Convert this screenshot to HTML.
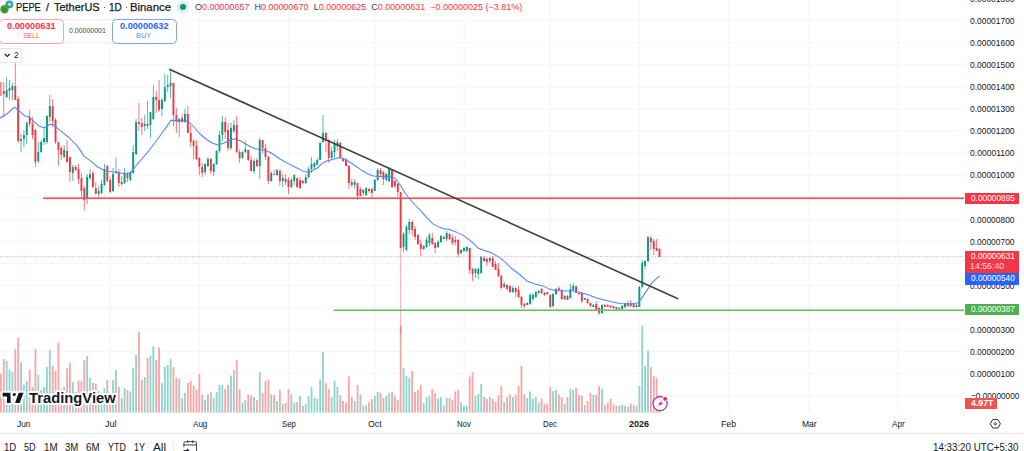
<!DOCTYPE html>
<html><head><meta charset="utf-8">
<style>
*{margin:0;padding:0;box-sizing:border-box}
html,body{width:1024px;height:451px;overflow:hidden;background:#fff}
body{position:relative;font-family:"Liberation Sans",sans-serif;color:#131722}
.a{position:absolute;white-space:nowrap}
svg{position:absolute;left:0;top:0}
</style></head><body>
<svg width="1024" height="451" viewBox="0 0 1024 451">
<rect x="0" y="-1.76" width="964" height="1" fill="#f5f5f7"/>
<rect x="0" y="20.30" width="964" height="1" fill="#f5f5f7"/>
<rect x="0" y="42.36" width="964" height="1" fill="#f5f5f7"/>
<rect x="0" y="64.42" width="964" height="1" fill="#f5f5f7"/>
<rect x="0" y="86.48" width="964" height="1" fill="#f5f5f7"/>
<rect x="0" y="108.54" width="964" height="1" fill="#f5f5f7"/>
<rect x="0" y="130.60" width="964" height="1" fill="#f5f5f7"/>
<rect x="0" y="152.66" width="964" height="1" fill="#f5f5f7"/>
<rect x="0" y="174.72" width="964" height="1" fill="#f5f5f7"/>
<rect x="0" y="196.78" width="964" height="1" fill="#f5f5f7"/>
<rect x="0" y="218.84" width="964" height="1" fill="#f5f5f7"/>
<rect x="0" y="240.90" width="964" height="1" fill="#f5f5f7"/>
<rect x="0" y="262.96" width="964" height="1" fill="#f5f5f7"/>
<rect x="0" y="285.02" width="964" height="1" fill="#f5f5f7"/>
<rect x="0" y="307.08" width="964" height="1" fill="#f5f5f7"/>
<rect x="0" y="329.14" width="964" height="1" fill="#f5f5f7"/>
<rect x="0" y="351.20" width="964" height="1" fill="#f5f5f7"/>
<rect x="0" y="373.26" width="964" height="1" fill="#f5f5f7"/>
<rect x="0" y="395.32" width="964" height="1" fill="#f5f5f7"/>
<rect x="23.50" y="0" width="1" height="413" fill="#f5f5f7"/>
<rect x="109.80" y="0" width="1" height="413" fill="#f5f5f7"/>
<rect x="199.00" y="0" width="1" height="413" fill="#f5f5f7"/>
<rect x="288.10" y="0" width="1" height="413" fill="#f5f5f7"/>
<rect x="374.40" y="0" width="1" height="413" fill="#f5f5f7"/>
<rect x="463.60" y="0" width="1" height="413" fill="#f5f5f7"/>
<rect x="549.80" y="0" width="1" height="413" fill="#f5f5f7"/>
<rect x="639.00" y="0" width="1" height="413" fill="#f5f5f7"/>
<rect x="728.20" y="0" width="1" height="413" fill="#f5f5f7"/>
<rect x="808.70" y="0" width="1" height="413" fill="#f5f5f7"/>
<rect x="897.80" y="0" width="1" height="413" fill="#f5f5f7"/>
<rect x="0.00" y="373.6" width="1.8" height="39.0" fill="#f7a5a7"/>
<rect x="2.88" y="359.0" width="1.8" height="53.6" fill="#f7a5a7"/>
<rect x="5.75" y="361.0" width="1.8" height="51.6" fill="#8fd3cb"/>
<rect x="8.63" y="369.5" width="1.8" height="43.1" fill="#8fd3cb"/>
<rect x="11.50" y="372.0" width="1.8" height="40.6" fill="#8fd3cb"/>
<rect x="14.38" y="349.0" width="1.8" height="63.6" fill="#f7a5a7"/>
<rect x="17.26" y="338.0" width="1.8" height="74.6" fill="#f7a5a7"/>
<rect x="20.13" y="362.0" width="1.8" height="50.6" fill="#8fd3cb"/>
<rect x="23.01" y="384.7" width="1.8" height="27.9" fill="#8fd3cb"/>
<rect x="25.88" y="381.0" width="1.8" height="31.6" fill="#8fd3cb"/>
<rect x="28.76" y="369.5" width="1.8" height="43.1" fill="#f7a5a7"/>
<rect x="31.64" y="387.0" width="1.8" height="25.6" fill="#f7a5a7"/>
<rect x="34.51" y="349.0" width="1.8" height="63.6" fill="#f7a5a7"/>
<rect x="37.39" y="375.0" width="1.8" height="37.6" fill="#8fd3cb"/>
<rect x="40.26" y="390.0" width="1.8" height="22.6" fill="#8fd3cb"/>
<rect x="43.14" y="387.0" width="1.8" height="25.6" fill="#8fd3cb"/>
<rect x="46.02" y="367.0" width="1.8" height="45.6" fill="#8fd3cb"/>
<rect x="48.89" y="350.0" width="1.8" height="62.6" fill="#8fd3cb"/>
<rect x="51.77" y="365.5" width="1.8" height="47.1" fill="#f7a5a7"/>
<rect x="54.64" y="371.0" width="1.8" height="41.6" fill="#f7a5a7"/>
<rect x="57.52" y="342.4" width="1.8" height="70.2" fill="#f7a5a7"/>
<rect x="60.40" y="389.0" width="1.8" height="23.6" fill="#f7a5a7"/>
<rect x="63.27" y="387.0" width="1.8" height="25.6" fill="#8fd3cb"/>
<rect x="66.15" y="368.5" width="1.8" height="44.1" fill="#f7a5a7"/>
<rect x="69.02" y="363.0" width="1.8" height="49.6" fill="#f7a5a7"/>
<rect x="71.90" y="382.0" width="1.8" height="30.6" fill="#8fd3cb"/>
<rect x="74.78" y="392.0" width="1.8" height="20.6" fill="#f7a5a7"/>
<rect x="77.65" y="380.6" width="1.8" height="32.0" fill="#f7a5a7"/>
<rect x="80.53" y="381.0" width="1.8" height="31.6" fill="#f7a5a7"/>
<rect x="83.40" y="360.0" width="1.8" height="52.6" fill="#f7a5a7"/>
<rect x="86.28" y="356.0" width="1.8" height="56.6" fill="#8fd3cb"/>
<rect x="89.16" y="378.0" width="1.8" height="34.6" fill="#8fd3cb"/>
<rect x="92.03" y="383.0" width="1.8" height="29.6" fill="#f7a5a7"/>
<rect x="94.91" y="384.0" width="1.8" height="28.6" fill="#f7a5a7"/>
<rect x="97.78" y="391.0" width="1.8" height="21.6" fill="#8fd3cb"/>
<rect x="100.66" y="396.0" width="1.8" height="16.6" fill="#8fd3cb"/>
<rect x="103.54" y="388.0" width="1.8" height="24.6" fill="#8fd3cb"/>
<rect x="106.41" y="380.0" width="1.8" height="32.6" fill="#f7a5a7"/>
<rect x="109.29" y="396.0" width="1.8" height="16.6" fill="#f7a5a7"/>
<rect x="112.16" y="380.0" width="1.8" height="32.6" fill="#8fd3cb"/>
<rect x="115.04" y="370.0" width="1.8" height="42.6" fill="#8fd3cb"/>
<rect x="117.92" y="387.0" width="1.8" height="25.6" fill="#f7a5a7"/>
<rect x="120.79" y="398.0" width="1.8" height="14.6" fill="#8fd3cb"/>
<rect x="123.67" y="388.0" width="1.8" height="24.6" fill="#8fd3cb"/>
<rect x="126.54" y="390.0" width="1.8" height="22.6" fill="#f7a5a7"/>
<rect x="129.42" y="391.4" width="1.8" height="21.2" fill="#8fd3cb"/>
<rect x="132.30" y="368.0" width="1.8" height="44.6" fill="#8fd3cb"/>
<rect x="135.17" y="355.0" width="1.8" height="57.6" fill="#8fd3cb"/>
<rect x="138.05" y="332.0" width="1.8" height="80.6" fill="#f7a5a7"/>
<rect x="140.92" y="380.0" width="1.8" height="32.6" fill="#f7a5a7"/>
<rect x="143.80" y="377.0" width="1.8" height="35.6" fill="#8fd3cb"/>
<rect x="146.68" y="358.0" width="1.8" height="54.6" fill="#f7a5a7"/>
<rect x="149.55" y="356.0" width="1.8" height="56.6" fill="#8fd3cb"/>
<rect x="152.43" y="346.5" width="1.8" height="66.1" fill="#8fd3cb"/>
<rect x="155.30" y="360.0" width="1.8" height="52.6" fill="#f7a5a7"/>
<rect x="158.18" y="347.5" width="1.8" height="65.1" fill="#f7a5a7"/>
<rect x="161.06" y="383.0" width="1.8" height="29.6" fill="#8fd3cb"/>
<rect x="163.93" y="367.0" width="1.8" height="45.6" fill="#8fd3cb"/>
<rect x="166.81" y="365.0" width="1.8" height="47.6" fill="#8fd3cb"/>
<rect x="169.68" y="359.0" width="1.8" height="53.6" fill="#8fd3cb"/>
<rect x="172.56" y="367.0" width="1.8" height="45.6" fill="#f7a5a7"/>
<rect x="175.44" y="377.5" width="1.8" height="35.1" fill="#f7a5a7"/>
<rect x="178.31" y="379.0" width="1.8" height="33.6" fill="#8fd3cb"/>
<rect x="181.19" y="398.0" width="1.8" height="14.6" fill="#f7a5a7"/>
<rect x="184.06" y="393.0" width="1.8" height="19.6" fill="#8fd3cb"/>
<rect x="186.94" y="383.0" width="1.8" height="29.6" fill="#f7a5a7"/>
<rect x="189.82" y="381.0" width="1.8" height="31.6" fill="#f7a5a7"/>
<rect x="192.69" y="385.7" width="1.8" height="26.9" fill="#f7a5a7"/>
<rect x="195.57" y="390.0" width="1.8" height="22.6" fill="#f7a5a7"/>
<rect x="198.44" y="374.0" width="1.8" height="38.6" fill="#f7a5a7"/>
<rect x="201.32" y="394.4" width="1.8" height="18.2" fill="#f7a5a7"/>
<rect x="204.20" y="400.0" width="1.8" height="12.6" fill="#8fd3cb"/>
<rect x="207.07" y="394.4" width="1.8" height="18.2" fill="#8fd3cb"/>
<rect x="209.95" y="392.0" width="1.8" height="20.6" fill="#f7a5a7"/>
<rect x="212.82" y="398.0" width="1.8" height="14.6" fill="#8fd3cb"/>
<rect x="215.70" y="392.0" width="1.8" height="20.6" fill="#8fd3cb"/>
<rect x="218.58" y="385.0" width="1.8" height="27.6" fill="#8fd3cb"/>
<rect x="221.45" y="385.0" width="1.8" height="27.6" fill="#8fd3cb"/>
<rect x="224.33" y="389.0" width="1.8" height="23.6" fill="#f7a5a7"/>
<rect x="227.20" y="385.0" width="1.8" height="27.6" fill="#f7a5a7"/>
<rect x="230.08" y="375.5" width="1.8" height="37.1" fill="#8fd3cb"/>
<rect x="232.96" y="370.0" width="1.8" height="42.6" fill="#8fd3cb"/>
<rect x="235.83" y="360.0" width="1.8" height="52.6" fill="#f7a5a7"/>
<rect x="238.71" y="389.0" width="1.8" height="23.6" fill="#f7a5a7"/>
<rect x="241.58" y="403.0" width="1.8" height="9.6" fill="#8fd3cb"/>
<rect x="244.46" y="400.0" width="1.8" height="12.6" fill="#8fd3cb"/>
<rect x="247.34" y="394.4" width="1.8" height="18.2" fill="#f7a5a7"/>
<rect x="250.21" y="395.5" width="1.8" height="17.1" fill="#f7a5a7"/>
<rect x="253.09" y="397.0" width="1.8" height="15.6" fill="#8fd3cb"/>
<rect x="255.96" y="400.0" width="1.8" height="12.6" fill="#f7a5a7"/>
<rect x="258.84" y="372.0" width="1.8" height="40.6" fill="#8fd3cb"/>
<rect x="261.72" y="393.0" width="1.8" height="19.6" fill="#f7a5a7"/>
<rect x="264.59" y="380.6" width="1.8" height="32.0" fill="#f7a5a7"/>
<rect x="267.47" y="380.0" width="1.8" height="32.6" fill="#f7a5a7"/>
<rect x="270.34" y="394.4" width="1.8" height="18.2" fill="#8fd3cb"/>
<rect x="273.22" y="395.0" width="1.8" height="17.6" fill="#f7a5a7"/>
<rect x="276.10" y="401.0" width="1.8" height="11.6" fill="#8fd3cb"/>
<rect x="278.97" y="390.0" width="1.8" height="22.6" fill="#f7a5a7"/>
<rect x="281.85" y="404.0" width="1.8" height="8.6" fill="#8fd3cb"/>
<rect x="284.72" y="403.0" width="1.8" height="9.6" fill="#f7a5a7"/>
<rect x="287.60" y="389.0" width="1.8" height="23.6" fill="#f7a5a7"/>
<rect x="290.48" y="394.4" width="1.8" height="18.2" fill="#8fd3cb"/>
<rect x="293.35" y="402.6" width="1.8" height="10.0" fill="#8fd3cb"/>
<rect x="296.23" y="402.0" width="1.8" height="10.6" fill="#f7a5a7"/>
<rect x="299.10" y="396.0" width="1.8" height="16.6" fill="#8fd3cb"/>
<rect x="301.98" y="405.7" width="1.8" height="6.9" fill="#f7a5a7"/>
<rect x="304.86" y="404.0" width="1.8" height="8.6" fill="#8fd3cb"/>
<rect x="307.73" y="396.0" width="1.8" height="16.6" fill="#8fd3cb"/>
<rect x="310.61" y="387.0" width="1.8" height="25.6" fill="#8fd3cb"/>
<rect x="313.48" y="398.0" width="1.8" height="14.6" fill="#8fd3cb"/>
<rect x="316.36" y="399.0" width="1.8" height="13.6" fill="#8fd3cb"/>
<rect x="319.24" y="379.5" width="1.8" height="33.1" fill="#8fd3cb"/>
<rect x="322.11" y="352.0" width="1.8" height="60.6" fill="#8fd3cb"/>
<rect x="324.99" y="383.0" width="1.8" height="29.6" fill="#f7a5a7"/>
<rect x="327.86" y="389.0" width="1.8" height="23.6" fill="#f7a5a7"/>
<rect x="330.74" y="397.0" width="1.8" height="15.6" fill="#8fd3cb"/>
<rect x="333.62" y="380.6" width="1.8" height="32.0" fill="#8fd3cb"/>
<rect x="336.49" y="387.0" width="1.8" height="25.6" fill="#8fd3cb"/>
<rect x="339.37" y="395.5" width="1.8" height="17.1" fill="#f7a5a7"/>
<rect x="342.24" y="401.0" width="1.8" height="11.6" fill="#f7a5a7"/>
<rect x="345.12" y="402.6" width="1.8" height="10.0" fill="#f7a5a7"/>
<rect x="348.00" y="376.5" width="1.8" height="36.1" fill="#f7a5a7"/>
<rect x="350.87" y="397.0" width="1.8" height="15.6" fill="#f7a5a7"/>
<rect x="353.75" y="401.0" width="1.8" height="11.6" fill="#8fd3cb"/>
<rect x="356.62" y="385.0" width="1.8" height="27.6" fill="#f7a5a7"/>
<rect x="359.50" y="394.4" width="1.8" height="18.2" fill="#8fd3cb"/>
<rect x="362.38" y="405.7" width="1.8" height="6.9" fill="#f7a5a7"/>
<rect x="365.25" y="405.0" width="1.8" height="7.6" fill="#8fd3cb"/>
<rect x="368.13" y="402.0" width="1.8" height="10.6" fill="#f7a5a7"/>
<rect x="371.00" y="399.0" width="1.8" height="13.6" fill="#f7a5a7"/>
<rect x="373.88" y="396.0" width="1.8" height="16.6" fill="#8fd3cb"/>
<rect x="376.76" y="392.0" width="1.8" height="20.6" fill="#8fd3cb"/>
<rect x="379.63" y="393.0" width="1.8" height="19.6" fill="#f7a5a7"/>
<rect x="382.51" y="398.0" width="1.8" height="14.6" fill="#f7a5a7"/>
<rect x="385.38" y="396.0" width="1.8" height="16.6" fill="#8fd3cb"/>
<rect x="388.26" y="393.0" width="1.8" height="19.6" fill="#8fd3cb"/>
<rect x="391.14" y="392.0" width="1.8" height="20.6" fill="#f7a5a7"/>
<rect x="394.01" y="396.0" width="1.8" height="16.6" fill="#f7a5a7"/>
<rect x="396.89" y="399.6" width="1.8" height="13.0" fill="#f7a5a7"/>
<rect x="399.76" y="326.0" width="1.8" height="86.6" fill="#f7a5a7"/>
<rect x="402.64" y="368.0" width="1.8" height="44.6" fill="#8fd3cb"/>
<rect x="405.52" y="376.0" width="1.8" height="36.6" fill="#8fd3cb"/>
<rect x="408.39" y="377.7" width="1.8" height="34.9" fill="#8fd3cb"/>
<rect x="411.27" y="371.0" width="1.8" height="41.6" fill="#f7a5a7"/>
<rect x="414.14" y="392.0" width="1.8" height="20.6" fill="#f7a5a7"/>
<rect x="417.02" y="390.0" width="1.8" height="22.6" fill="#f7a5a7"/>
<rect x="419.90" y="384.7" width="1.8" height="27.9" fill="#f7a5a7"/>
<rect x="422.77" y="403.0" width="1.8" height="9.6" fill="#8fd3cb"/>
<rect x="425.65" y="397.0" width="1.8" height="15.6" fill="#8fd3cb"/>
<rect x="428.52" y="396.0" width="1.8" height="16.6" fill="#8fd3cb"/>
<rect x="431.40" y="389.0" width="1.8" height="23.6" fill="#f7a5a7"/>
<rect x="434.28" y="393.0" width="1.8" height="19.6" fill="#f7a5a7"/>
<rect x="437.15" y="398.5" width="1.8" height="14.1" fill="#8fd3cb"/>
<rect x="440.03" y="397.0" width="1.8" height="15.6" fill="#8fd3cb"/>
<rect x="442.90" y="405.7" width="1.8" height="6.9" fill="#f7a5a7"/>
<rect x="445.78" y="398.0" width="1.8" height="14.6" fill="#8fd3cb"/>
<rect x="448.66" y="398.0" width="1.8" height="14.6" fill="#f7a5a7"/>
<rect x="451.53" y="399.6" width="1.8" height="13.0" fill="#f7a5a7"/>
<rect x="454.41" y="391.4" width="1.8" height="21.2" fill="#f7a5a7"/>
<rect x="457.28" y="389.8" width="1.8" height="22.8" fill="#f7a5a7"/>
<rect x="460.16" y="402.0" width="1.8" height="10.6" fill="#8fd3cb"/>
<rect x="463.04" y="405.7" width="1.8" height="6.9" fill="#8fd3cb"/>
<rect x="465.91" y="405.7" width="1.8" height="6.9" fill="#8fd3cb"/>
<rect x="468.79" y="376.5" width="1.8" height="36.1" fill="#f7a5a7"/>
<rect x="471.66" y="372.4" width="1.8" height="40.2" fill="#f7a5a7"/>
<rect x="474.54" y="396.0" width="1.8" height="16.6" fill="#8fd3cb"/>
<rect x="477.42" y="394.0" width="1.8" height="18.6" fill="#8fd3cb"/>
<rect x="480.29" y="384.0" width="1.8" height="28.6" fill="#8fd3cb"/>
<rect x="483.17" y="397.0" width="1.8" height="15.6" fill="#f7a5a7"/>
<rect x="486.04" y="399.0" width="1.8" height="13.6" fill="#f7a5a7"/>
<rect x="488.92" y="397.0" width="1.8" height="15.6" fill="#8fd3cb"/>
<rect x="491.80" y="399.0" width="1.8" height="13.6" fill="#f7a5a7"/>
<rect x="494.67" y="402.0" width="1.8" height="10.6" fill="#f7a5a7"/>
<rect x="497.55" y="395.5" width="1.8" height="17.1" fill="#f7a5a7"/>
<rect x="500.42" y="386.0" width="1.8" height="26.6" fill="#f7a5a7"/>
<rect x="503.30" y="402.0" width="1.8" height="10.6" fill="#8fd3cb"/>
<rect x="506.18" y="397.0" width="1.8" height="15.6" fill="#f7a5a7"/>
<rect x="509.05" y="394.4" width="1.8" height="18.2" fill="#f7a5a7"/>
<rect x="511.93" y="397.0" width="1.8" height="15.6" fill="#8fd3cb"/>
<rect x="514.80" y="394.4" width="1.8" height="18.2" fill="#f7a5a7"/>
<rect x="517.68" y="386.0" width="1.8" height="26.6" fill="#f7a5a7"/>
<rect x="520.56" y="366.0" width="1.8" height="46.6" fill="#f7a5a7"/>
<rect x="523.43" y="394.4" width="1.8" height="18.2" fill="#f7a5a7"/>
<rect x="526.31" y="398.0" width="1.8" height="14.6" fill="#8fd3cb"/>
<rect x="529.18" y="391.4" width="1.8" height="21.2" fill="#8fd3cb"/>
<rect x="532.06" y="398.5" width="1.8" height="14.1" fill="#8fd3cb"/>
<rect x="534.94" y="397.0" width="1.8" height="15.6" fill="#8fd3cb"/>
<rect x="537.81" y="402.6" width="1.8" height="10.0" fill="#8fd3cb"/>
<rect x="540.69" y="398.5" width="1.8" height="14.1" fill="#f7a5a7"/>
<rect x="543.56" y="403.6" width="1.8" height="9.0" fill="#f7a5a7"/>
<rect x="546.44" y="403.6" width="1.8" height="9.0" fill="#f7a5a7"/>
<rect x="549.32" y="387.0" width="1.8" height="25.6" fill="#f7a5a7"/>
<rect x="552.19" y="391.0" width="1.8" height="21.6" fill="#8fd3cb"/>
<rect x="555.07" y="390.0" width="1.8" height="22.6" fill="#8fd3cb"/>
<rect x="557.94" y="394.4" width="1.8" height="18.2" fill="#f7a5a7"/>
<rect x="560.82" y="397.0" width="1.8" height="15.6" fill="#f7a5a7"/>
<rect x="563.70" y="403.6" width="1.8" height="9.0" fill="#8fd3cb"/>
<rect x="566.57" y="397.0" width="1.8" height="15.6" fill="#f7a5a7"/>
<rect x="569.45" y="388.7" width="1.8" height="23.9" fill="#8fd3cb"/>
<rect x="572.32" y="390.0" width="1.8" height="22.6" fill="#8fd3cb"/>
<rect x="575.20" y="388.0" width="1.8" height="24.6" fill="#f7a5a7"/>
<rect x="578.08" y="395.0" width="1.8" height="17.6" fill="#f7a5a7"/>
<rect x="580.95" y="396.0" width="1.8" height="16.6" fill="#f7a5a7"/>
<rect x="583.83" y="405.0" width="1.8" height="7.6" fill="#8fd3cb"/>
<rect x="586.70" y="401.0" width="1.8" height="11.6" fill="#f7a5a7"/>
<rect x="589.58" y="393.0" width="1.8" height="19.6" fill="#f7a5a7"/>
<rect x="592.46" y="395.0" width="1.8" height="17.6" fill="#8fd3cb"/>
<rect x="595.33" y="395.0" width="1.8" height="17.6" fill="#f7a5a7"/>
<rect x="598.21" y="386.0" width="1.8" height="26.6" fill="#f7a5a7"/>
<rect x="601.08" y="388.7" width="1.8" height="23.9" fill="#8fd3cb"/>
<rect x="603.96" y="405.0" width="1.8" height="7.6" fill="#f7a5a7"/>
<rect x="606.84" y="402.6" width="1.8" height="10.0" fill="#f7a5a7"/>
<rect x="609.71" y="398.5" width="1.8" height="14.1" fill="#f7a5a7"/>
<rect x="612.59" y="404.7" width="1.8" height="7.9" fill="#f7a5a7"/>
<rect x="615.46" y="405.7" width="1.8" height="6.9" fill="#8fd3cb"/>
<rect x="618.34" y="406.0" width="1.8" height="6.6" fill="#f7a5a7"/>
<rect x="621.22" y="405.0" width="1.8" height="7.6" fill="#8fd3cb"/>
<rect x="624.09" y="406.0" width="1.8" height="6.6" fill="#8fd3cb"/>
<rect x="626.97" y="406.7" width="1.8" height="5.9" fill="#f7a5a7"/>
<rect x="629.84" y="403.6" width="1.8" height="9.0" fill="#f7a5a7"/>
<rect x="632.72" y="405.0" width="1.8" height="7.6" fill="#8fd3cb"/>
<rect x="635.60" y="406.0" width="1.8" height="6.6" fill="#f7a5a7"/>
<rect x="638.47" y="386.0" width="1.8" height="26.6" fill="#8fd3cb"/>
<rect x="641.35" y="325.7" width="1.8" height="86.9" fill="#8fd3cb"/>
<rect x="644.22" y="366.0" width="1.8" height="46.6" fill="#8fd3cb"/>
<rect x="647.10" y="350.6" width="1.8" height="62.0" fill="#8fd3cb"/>
<rect x="649.98" y="367.0" width="1.8" height="45.6" fill="#f7a5a7"/>
<rect x="652.85" y="376.0" width="1.8" height="36.6" fill="#f7a5a7"/>
<rect x="655.73" y="378.0" width="1.8" height="34.6" fill="#f7a5a7"/>
<rect x="658.60" y="395.0" width="1.8" height="17.6" fill="#f7a5a7"/>
<line x1="0" y1="256.4" x2="964" y2="256.4" stroke="#f7a1a8" stroke-width="1" stroke-dasharray="1 1.4"/>
<rect x="0.45" y="82.0" width="0.9" height="14.0" fill="#f23645" opacity="0.75"/>
<rect x="-0.05" y="82.0" width="1.9" height="14.0" fill="#f23645" opacity="0.3"/>
<rect x="3.33" y="82.0" width="0.9" height="35.0" fill="#f23645" opacity="0.75"/>
<rect x="2.83" y="91.0" width="1.9" height="3.0" fill="#f23645"/>
<rect x="6.20" y="77.0" width="0.9" height="21.0" fill="#089981" opacity="0.75"/>
<rect x="5.70" y="90.0" width="1.9" height="7.0" fill="#089981"/>
<rect x="9.08" y="80.0" width="0.9" height="20.0" fill="#089981" opacity="0.75"/>
<rect x="8.58" y="88.0" width="1.9" height="3.0" fill="#089981"/>
<rect x="11.95" y="83.0" width="0.9" height="17.0" fill="#089981" opacity="0.75"/>
<rect x="11.45" y="86.0" width="1.9" height="4.0" fill="#089981"/>
<rect x="14.83" y="63.0" width="0.9" height="37.0" fill="#f23645" opacity="0.75"/>
<rect x="14.33" y="86.0" width="1.9" height="14.0" fill="#f23645"/>
<rect x="17.71" y="96.0" width="0.9" height="47.0" fill="#f23645" opacity="0.75"/>
<rect x="17.21" y="99.0" width="1.9" height="42.0" fill="#f23645"/>
<rect x="20.58" y="134.0" width="0.9" height="18.0" fill="#089981" opacity="0.75"/>
<rect x="20.08" y="139.0" width="1.9" height="2.0" fill="#089981"/>
<rect x="23.46" y="130.0" width="0.9" height="17.0" fill="#089981" opacity="0.75"/>
<rect x="22.96" y="135.0" width="1.9" height="4.0" fill="#089981"/>
<rect x="26.33" y="121.0" width="0.9" height="23.0" fill="#089981" opacity="0.75"/>
<rect x="25.83" y="123.0" width="1.9" height="12.0" fill="#089981"/>
<rect x="29.21" y="110.0" width="0.9" height="17.0" fill="#f23645" opacity="0.75"/>
<rect x="28.71" y="117.0" width="1.9" height="7.0" fill="#f23645"/>
<rect x="32.09" y="117.0" width="0.9" height="22.0" fill="#f23645" opacity="0.75"/>
<rect x="31.59" y="124.0" width="1.9" height="11.0" fill="#f23645"/>
<rect x="34.96" y="129.0" width="0.9" height="38.0" fill="#f23645" opacity="0.75"/>
<rect x="34.46" y="130.0" width="1.9" height="32.0" fill="#f23645"/>
<rect x="37.84" y="142.0" width="0.9" height="21.0" fill="#089981" opacity="0.75"/>
<rect x="37.34" y="152.0" width="1.9" height="9.0" fill="#089981"/>
<rect x="40.71" y="140.0" width="0.9" height="13.0" fill="#089981" opacity="0.75"/>
<rect x="40.21" y="142.0" width="1.9" height="10.0" fill="#089981"/>
<rect x="43.59" y="128.0" width="0.9" height="17.0" fill="#089981" opacity="0.75"/>
<rect x="43.09" y="138.0" width="1.9" height="4.0" fill="#089981"/>
<rect x="46.47" y="115.0" width="0.9" height="29.0" fill="#089981" opacity="0.75"/>
<rect x="45.97" y="116.0" width="1.9" height="26.0" fill="#089981"/>
<rect x="49.34" y="95.0" width="0.9" height="27.0" fill="#089981" opacity="0.75"/>
<rect x="48.84" y="106.0" width="1.9" height="11.0" fill="#089981"/>
<rect x="52.22" y="99.0" width="0.9" height="28.0" fill="#f23645" opacity="0.75"/>
<rect x="51.72" y="106.0" width="1.9" height="15.0" fill="#f23645"/>
<rect x="55.09" y="118.0" width="0.9" height="26.0" fill="#f23645" opacity="0.75"/>
<rect x="54.59" y="120.0" width="1.9" height="22.0" fill="#f23645"/>
<rect x="57.97" y="142.0" width="0.9" height="24.0" fill="#f23645" opacity="0.75"/>
<rect x="57.47" y="142.0" width="1.9" height="8.0" fill="#f23645"/>
<rect x="60.85" y="146.0" width="0.9" height="14.0" fill="#f23645" opacity="0.75"/>
<rect x="60.35" y="148.0" width="1.9" height="7.0" fill="#f23645"/>
<rect x="63.72" y="145.0" width="0.9" height="13.0" fill="#089981" opacity="0.75"/>
<rect x="63.22" y="150.0" width="1.9" height="7.0" fill="#089981"/>
<rect x="66.60" y="140.0" width="0.9" height="23.0" fill="#f23645" opacity="0.75"/>
<rect x="66.10" y="151.0" width="1.9" height="11.0" fill="#f23645"/>
<rect x="69.47" y="157.0" width="0.9" height="25.0" fill="#f23645" opacity="0.75"/>
<rect x="68.97" y="157.0" width="1.9" height="15.0" fill="#f23645"/>
<rect x="72.35" y="165.0" width="0.9" height="16.0" fill="#089981" opacity="0.75"/>
<rect x="71.85" y="167.0" width="1.9" height="6.0" fill="#089981"/>
<rect x="75.23" y="165.0" width="0.9" height="6.0" fill="#f23645" opacity="0.75"/>
<rect x="74.73" y="167.0" width="1.9" height="3.0" fill="#f23645"/>
<rect x="78.10" y="164.0" width="0.9" height="20.0" fill="#f23645" opacity="0.75"/>
<rect x="77.60" y="169.0" width="1.9" height="10.0" fill="#f23645"/>
<rect x="80.98" y="173.0" width="0.9" height="25.0" fill="#f23645" opacity="0.75"/>
<rect x="80.48" y="178.0" width="1.9" height="13.0" fill="#f23645"/>
<rect x="83.85" y="186.0" width="0.9" height="24.0" fill="#f23645" opacity="0.75"/>
<rect x="83.35" y="188.0" width="1.9" height="12.0" fill="#f23645"/>
<rect x="86.73" y="174.0" width="0.9" height="30.0" fill="#089981" opacity="0.75"/>
<rect x="86.23" y="177.0" width="1.9" height="21.0" fill="#089981"/>
<rect x="89.61" y="169.0" width="0.9" height="11.0" fill="#089981" opacity="0.75"/>
<rect x="89.11" y="174.0" width="1.9" height="4.0" fill="#089981"/>
<rect x="92.48" y="171.0" width="0.9" height="17.0" fill="#f23645" opacity="0.75"/>
<rect x="91.98" y="173.0" width="1.9" height="14.0" fill="#f23645"/>
<rect x="95.36" y="182.0" width="0.9" height="12.0" fill="#f23645" opacity="0.75"/>
<rect x="94.86" y="188.0" width="1.9" height="6.0" fill="#f23645"/>
<rect x="98.23" y="186.0" width="0.9" height="12.0" fill="#089981" opacity="0.75"/>
<rect x="97.73" y="191.0" width="1.9" height="3.0" fill="#089981"/>
<rect x="101.11" y="180.0" width="0.9" height="14.0" fill="#089981" opacity="0.75"/>
<rect x="100.61" y="184.0" width="1.9" height="9.0" fill="#089981"/>
<rect x="103.99" y="164.0" width="0.9" height="22.0" fill="#089981" opacity="0.75"/>
<rect x="103.49" y="169.0" width="1.9" height="16.0" fill="#089981"/>
<rect x="106.86" y="165.0" width="0.9" height="17.0" fill="#f23645" opacity="0.75"/>
<rect x="106.36" y="166.0" width="1.9" height="15.0" fill="#f23645"/>
<rect x="109.74" y="177.0" width="0.9" height="16.0" fill="#f23645" opacity="0.75"/>
<rect x="109.24" y="180.0" width="1.9" height="12.0" fill="#f23645"/>
<rect x="112.61" y="168.0" width="0.9" height="24.0" fill="#089981" opacity="0.75"/>
<rect x="112.11" y="174.0" width="1.9" height="17.0" fill="#089981"/>
<rect x="115.49" y="158.0" width="0.9" height="16.0" fill="#089981" opacity="0.75"/>
<rect x="114.99" y="171.0" width="1.9" height="2.0" fill="#089981"/>
<rect x="118.37" y="169.0" width="0.9" height="18.0" fill="#f23645" opacity="0.75"/>
<rect x="117.87" y="172.0" width="1.9" height="11.0" fill="#f23645"/>
<rect x="121.24" y="176.0" width="0.9" height="10.0" fill="#089981" opacity="0.75"/>
<rect x="120.74" y="182.0" width="1.9" height="2.0" fill="#089981"/>
<rect x="124.12" y="168.0" width="0.9" height="16.0" fill="#089981" opacity="0.75"/>
<rect x="123.62" y="173.0" width="1.9" height="10.0" fill="#089981"/>
<rect x="126.99" y="172.0" width="0.9" height="10.0" fill="#f23645" opacity="0.75"/>
<rect x="126.49" y="174.0" width="1.9" height="4.0" fill="#f23645"/>
<rect x="129.87" y="171.0" width="0.9" height="10.0" fill="#089981" opacity="0.75"/>
<rect x="129.37" y="172.0" width="1.9" height="8.0" fill="#089981"/>
<rect x="132.75" y="145.0" width="0.9" height="29.0" fill="#089981" opacity="0.75"/>
<rect x="132.25" y="152.0" width="1.9" height="21.0" fill="#089981"/>
<rect x="135.62" y="119.0" width="0.9" height="36.0" fill="#089981" opacity="0.75"/>
<rect x="135.12" y="122.0" width="1.9" height="32.0" fill="#089981"/>
<rect x="138.50" y="103.0" width="0.9" height="28.0" fill="#f23645" opacity="0.75"/>
<rect x="138.00" y="122.0" width="1.9" height="2.0" fill="#f23645"/>
<rect x="141.37" y="118.0" width="0.9" height="17.0" fill="#f23645" opacity="0.75"/>
<rect x="140.87" y="123.0" width="1.9" height="4.0" fill="#f23645"/>
<rect x="144.25" y="115.0" width="0.9" height="16.0" fill="#089981" opacity="0.75"/>
<rect x="143.75" y="124.0" width="1.9" height="2.0" fill="#089981"/>
<rect x="147.13" y="101.0" width="0.9" height="28.0" fill="#f23645" opacity="0.75"/>
<rect x="146.63" y="124.0" width="1.9" height="2.0" fill="#f23645"/>
<rect x="150.00" y="112.0" width="0.9" height="26.0" fill="#089981" opacity="0.75"/>
<rect x="149.50" y="112.0" width="1.9" height="13.0" fill="#089981"/>
<rect x="152.88" y="85.0" width="0.9" height="35.0" fill="#089981" opacity="0.75"/>
<rect x="152.38" y="97.0" width="1.9" height="22.0" fill="#089981"/>
<rect x="155.75" y="91.0" width="0.9" height="22.0" fill="#f23645" opacity="0.75"/>
<rect x="155.25" y="97.0" width="1.9" height="3.0" fill="#f23645"/>
<rect x="158.63" y="80.0" width="0.9" height="32.0" fill="#f23645" opacity="0.75"/>
<rect x="158.13" y="100.0" width="1.9" height="10.0" fill="#f23645"/>
<rect x="161.51" y="98.0" width="0.9" height="18.0" fill="#089981" opacity="0.75"/>
<rect x="161.01" y="100.0" width="1.9" height="9.0" fill="#089981"/>
<rect x="164.38" y="74.0" width="0.9" height="28.0" fill="#089981" opacity="0.75"/>
<rect x="163.88" y="87.0" width="1.9" height="14.0" fill="#089981"/>
<rect x="167.26" y="75.0" width="0.9" height="17.0" fill="#089981" opacity="0.75"/>
<rect x="166.76" y="85.0" width="1.9" height="2.0" fill="#089981"/>
<rect x="170.13" y="70.0" width="0.9" height="28.0" fill="#089981" opacity="0.75"/>
<rect x="169.63" y="83.0" width="1.9" height="3.0" fill="#089981"/>
<rect x="173.01" y="83.0" width="0.9" height="43.0" fill="#f23645" opacity="0.75"/>
<rect x="172.51" y="83.0" width="1.9" height="32.0" fill="#f23645"/>
<rect x="175.89" y="108.0" width="0.9" height="25.0" fill="#f23645" opacity="0.75"/>
<rect x="175.39" y="115.0" width="1.9" height="7.0" fill="#f23645"/>
<rect x="178.76" y="118.0" width="0.9" height="19.0" fill="#089981" opacity="0.75"/>
<rect x="178.26" y="119.0" width="1.9" height="3.0" fill="#089981"/>
<rect x="181.64" y="114.0" width="0.9" height="9.0" fill="#f23645" opacity="0.75"/>
<rect x="181.14" y="118.0" width="1.9" height="4.0" fill="#f23645"/>
<rect x="184.51" y="109.0" width="0.9" height="14.0" fill="#089981" opacity="0.75"/>
<rect x="184.01" y="114.0" width="1.9" height="8.0" fill="#089981"/>
<rect x="187.39" y="106.0" width="0.9" height="27.0" fill="#f23645" opacity="0.75"/>
<rect x="186.89" y="114.0" width="1.9" height="19.0" fill="#f23645"/>
<rect x="190.27" y="125.0" width="0.9" height="22.0" fill="#f23645" opacity="0.75"/>
<rect x="189.77" y="133.0" width="1.9" height="9.0" fill="#f23645"/>
<rect x="193.14" y="139.0" width="0.9" height="20.0" fill="#f23645" opacity="0.75"/>
<rect x="192.64" y="141.0" width="1.9" height="5.0" fill="#f23645"/>
<rect x="196.02" y="140.0" width="0.9" height="20.0" fill="#f23645" opacity="0.75"/>
<rect x="195.52" y="146.0" width="1.9" height="13.0" fill="#f23645"/>
<rect x="198.89" y="157.0" width="0.9" height="18.0" fill="#f23645" opacity="0.75"/>
<rect x="198.39" y="158.0" width="1.9" height="9.0" fill="#f23645"/>
<rect x="201.77" y="163.0" width="0.9" height="14.0" fill="#f23645" opacity="0.75"/>
<rect x="201.27" y="167.0" width="1.9" height="6.0" fill="#f23645"/>
<rect x="204.65" y="163.0" width="0.9" height="12.0" fill="#089981" opacity="0.75"/>
<rect x="204.15" y="164.0" width="1.9" height="8.0" fill="#089981"/>
<rect x="207.52" y="157.0" width="0.9" height="10.0" fill="#089981" opacity="0.75"/>
<rect x="207.02" y="159.0" width="1.9" height="7.0" fill="#089981"/>
<rect x="210.40" y="158.0" width="0.9" height="16.0" fill="#f23645" opacity="0.75"/>
<rect x="209.90" y="159.0" width="1.9" height="12.0" fill="#f23645"/>
<rect x="213.27" y="163.0" width="0.9" height="13.0" fill="#089981" opacity="0.75"/>
<rect x="212.77" y="164.0" width="1.9" height="8.0" fill="#089981"/>
<rect x="216.15" y="150.0" width="0.9" height="15.0" fill="#089981" opacity="0.75"/>
<rect x="215.65" y="151.0" width="1.9" height="13.0" fill="#089981"/>
<rect x="219.03" y="131.0" width="0.9" height="22.0" fill="#089981" opacity="0.75"/>
<rect x="218.53" y="135.0" width="1.9" height="16.0" fill="#089981"/>
<rect x="221.90" y="116.0" width="0.9" height="25.0" fill="#089981" opacity="0.75"/>
<rect x="221.40" y="122.0" width="1.9" height="13.0" fill="#089981"/>
<rect x="224.78" y="117.0" width="0.9" height="22.0" fill="#f23645" opacity="0.75"/>
<rect x="224.28" y="122.0" width="1.9" height="10.0" fill="#f23645"/>
<rect x="227.65" y="123.0" width="0.9" height="28.0" fill="#f23645" opacity="0.75"/>
<rect x="227.15" y="130.0" width="1.9" height="18.0" fill="#f23645"/>
<rect x="230.53" y="123.0" width="0.9" height="27.0" fill="#089981" opacity="0.75"/>
<rect x="230.03" y="128.0" width="1.9" height="20.0" fill="#089981"/>
<rect x="233.41" y="120.0" width="0.9" height="13.0" fill="#089981" opacity="0.75"/>
<rect x="232.91" y="125.0" width="1.9" height="6.0" fill="#089981"/>
<rect x="236.28" y="116.0" width="0.9" height="37.0" fill="#f23645" opacity="0.75"/>
<rect x="235.78" y="125.0" width="1.9" height="27.0" fill="#f23645"/>
<rect x="239.16" y="149.0" width="0.9" height="14.0" fill="#f23645" opacity="0.75"/>
<rect x="238.66" y="152.0" width="1.9" height="6.0" fill="#f23645"/>
<rect x="242.03" y="151.0" width="0.9" height="8.0" fill="#089981" opacity="0.75"/>
<rect x="241.53" y="152.0" width="1.9" height="6.0" fill="#089981"/>
<rect x="244.91" y="141.0" width="0.9" height="12.0" fill="#089981" opacity="0.75"/>
<rect x="244.41" y="149.0" width="1.9" height="3.0" fill="#089981"/>
<rect x="247.79" y="150.0" width="0.9" height="11.0" fill="#f23645" opacity="0.75"/>
<rect x="247.29" y="150.0" width="1.9" height="10.0" fill="#f23645"/>
<rect x="250.66" y="156.0" width="0.9" height="15.0" fill="#f23645" opacity="0.75"/>
<rect x="250.16" y="160.0" width="1.9" height="11.0" fill="#f23645"/>
<rect x="253.54" y="159.0" width="0.9" height="15.0" fill="#089981" opacity="0.75"/>
<rect x="253.04" y="161.0" width="1.9" height="10.0" fill="#089981"/>
<rect x="256.41" y="158.0" width="0.9" height="9.0" fill="#f23645" opacity="0.75"/>
<rect x="255.91" y="160.0" width="1.9" height="6.0" fill="#f23645"/>
<rect x="259.29" y="138.0" width="0.9" height="41.0" fill="#089981" opacity="0.75"/>
<rect x="258.79" y="140.0" width="1.9" height="26.0" fill="#089981"/>
<rect x="262.17" y="140.0" width="0.9" height="13.0" fill="#f23645" opacity="0.75"/>
<rect x="261.67" y="140.0" width="1.9" height="8.0" fill="#f23645"/>
<rect x="265.04" y="144.0" width="0.9" height="16.0" fill="#f23645" opacity="0.75"/>
<rect x="264.54" y="148.0" width="1.9" height="9.0" fill="#f23645"/>
<rect x="267.92" y="156.0" width="0.9" height="28.0" fill="#f23645" opacity="0.75"/>
<rect x="267.42" y="157.0" width="1.9" height="24.0" fill="#f23645"/>
<rect x="270.79" y="171.0" width="0.9" height="11.0" fill="#089981" opacity="0.75"/>
<rect x="270.29" y="173.0" width="1.9" height="8.0" fill="#089981"/>
<rect x="273.67" y="170.0" width="0.9" height="5.0" fill="#f23645" opacity="0.75"/>
<rect x="273.17" y="174.0" width="1.9" height="1.0" fill="#f23645"/>
<rect x="276.55" y="169.0" width="0.9" height="7.0" fill="#089981" opacity="0.75"/>
<rect x="276.05" y="170.0" width="1.9" height="5.0" fill="#089981"/>
<rect x="279.42" y="169.0" width="0.9" height="17.0" fill="#f23645" opacity="0.75"/>
<rect x="278.92" y="171.0" width="1.9" height="10.0" fill="#f23645"/>
<rect x="282.30" y="174.0" width="0.9" height="13.0" fill="#089981" opacity="0.75"/>
<rect x="281.80" y="178.0" width="1.9" height="3.0" fill="#089981"/>
<rect x="285.17" y="174.0" width="0.9" height="11.0" fill="#f23645" opacity="0.75"/>
<rect x="284.67" y="179.0" width="1.9" height="3.0" fill="#f23645"/>
<rect x="288.05" y="177.0" width="0.9" height="17.0" fill="#f23645" opacity="0.75"/>
<rect x="287.55" y="180.0" width="1.9" height="7.0" fill="#f23645"/>
<rect x="290.93" y="178.0" width="0.9" height="10.0" fill="#089981" opacity="0.75"/>
<rect x="290.43" y="180.0" width="1.9" height="7.0" fill="#089981"/>
<rect x="293.80" y="174.0" width="0.9" height="11.0" fill="#089981" opacity="0.75"/>
<rect x="293.30" y="175.0" width="1.9" height="6.0" fill="#089981"/>
<rect x="296.68" y="178.0" width="0.9" height="10.0" fill="#f23645" opacity="0.75"/>
<rect x="296.18" y="178.0" width="1.9" height="9.0" fill="#f23645"/>
<rect x="299.55" y="177.0" width="0.9" height="12.0" fill="#f23645" opacity="0.75"/>
<rect x="299.05" y="180.0" width="1.9" height="8.0" fill="#f23645"/>
<rect x="302.43" y="180.0" width="0.9" height="4.0" fill="#f23645" opacity="0.75"/>
<rect x="301.93" y="181.0" width="1.9" height="2.0" fill="#f23645"/>
<rect x="305.31" y="174.0" width="0.9" height="10.0" fill="#089981" opacity="0.75"/>
<rect x="304.81" y="177.0" width="1.9" height="6.0" fill="#089981"/>
<rect x="308.18" y="167.0" width="0.9" height="11.0" fill="#089981" opacity="0.75"/>
<rect x="307.68" y="169.0" width="1.9" height="8.0" fill="#089981"/>
<rect x="311.06" y="157.0" width="0.9" height="16.0" fill="#089981" opacity="0.75"/>
<rect x="310.56" y="164.0" width="1.9" height="5.0" fill="#089981"/>
<rect x="313.93" y="162.0" width="0.9" height="7.0" fill="#089981" opacity="0.75"/>
<rect x="313.43" y="163.0" width="1.9" height="4.0" fill="#089981"/>
<rect x="316.81" y="158.0" width="0.9" height="7.0" fill="#089981" opacity="0.75"/>
<rect x="316.31" y="160.0" width="1.9" height="5.0" fill="#089981"/>
<rect x="319.69" y="142.0" width="0.9" height="18.0" fill="#089981" opacity="0.75"/>
<rect x="319.19" y="143.0" width="1.9" height="17.0" fill="#089981"/>
<rect x="322.56" y="115.0" width="0.9" height="28.0" fill="#089981" opacity="0.75"/>
<rect x="322.06" y="133.0" width="1.9" height="9.0" fill="#089981"/>
<rect x="325.44" y="132.0" width="0.9" height="20.0" fill="#f23645" opacity="0.75"/>
<rect x="324.94" y="133.0" width="1.9" height="8.0" fill="#f23645"/>
<rect x="328.31" y="139.0" width="0.9" height="24.0" fill="#f23645" opacity="0.75"/>
<rect x="327.81" y="140.0" width="1.9" height="18.0" fill="#f23645"/>
<rect x="331.19" y="147.0" width="0.9" height="12.0" fill="#089981" opacity="0.75"/>
<rect x="330.69" y="151.0" width="1.9" height="7.0" fill="#089981"/>
<rect x="334.07" y="140.0" width="0.9" height="18.0" fill="#089981" opacity="0.75"/>
<rect x="333.57" y="143.0" width="1.9" height="9.0" fill="#089981"/>
<rect x="336.94" y="139.0" width="0.9" height="12.0" fill="#089981" opacity="0.75"/>
<rect x="336.44" y="142.0" width="1.9" height="4.0" fill="#089981"/>
<rect x="339.82" y="142.0" width="0.9" height="17.0" fill="#f23645" opacity="0.75"/>
<rect x="339.32" y="143.0" width="1.9" height="14.0" fill="#f23645"/>
<rect x="342.69" y="158.0" width="0.9" height="4.0" fill="#f23645" opacity="0.75"/>
<rect x="342.19" y="159.0" width="1.9" height="2.0" fill="#f23645"/>
<rect x="345.57" y="158.0" width="0.9" height="8.0" fill="#f23645" opacity="0.75"/>
<rect x="345.07" y="160.0" width="1.9" height="6.0" fill="#f23645"/>
<rect x="348.45" y="165.0" width="0.9" height="24.0" fill="#f23645" opacity="0.75"/>
<rect x="347.95" y="166.0" width="1.9" height="17.0" fill="#f23645"/>
<rect x="351.32" y="179.0" width="0.9" height="8.0" fill="#f23645" opacity="0.75"/>
<rect x="350.82" y="182.0" width="1.9" height="3.0" fill="#f23645"/>
<rect x="354.20" y="179.0" width="0.9" height="10.0" fill="#089981" opacity="0.75"/>
<rect x="353.70" y="182.0" width="1.9" height="3.0" fill="#089981"/>
<rect x="357.07" y="183.0" width="0.9" height="17.0" fill="#f23645" opacity="0.75"/>
<rect x="356.57" y="183.0" width="1.9" height="13.0" fill="#f23645"/>
<rect x="359.95" y="187.0" width="0.9" height="9.0" fill="#f23645" opacity="0.75"/>
<rect x="359.45" y="189.0" width="1.9" height="7.0" fill="#f23645"/>
<rect x="362.83" y="189.0" width="0.9" height="7.0" fill="#089981" opacity="0.75"/>
<rect x="362.33" y="190.0" width="1.9" height="3.0" fill="#089981"/>
<rect x="365.70" y="187.0" width="0.9" height="9.0" fill="#089981" opacity="0.75"/>
<rect x="365.20" y="188.0" width="1.9" height="7.0" fill="#089981"/>
<rect x="368.58" y="188.0" width="0.9" height="5.0" fill="#f23645" opacity="0.75"/>
<rect x="368.08" y="189.0" width="1.9" height="2.0" fill="#f23645"/>
<rect x="371.45" y="188.0" width="0.9" height="10.0" fill="#f23645" opacity="0.75"/>
<rect x="370.95" y="189.0" width="1.9" height="4.0" fill="#f23645"/>
<rect x="374.33" y="179.0" width="0.9" height="12.0" fill="#089981" opacity="0.75"/>
<rect x="373.83" y="180.0" width="1.9" height="11.0" fill="#089981"/>
<rect x="377.21" y="168.0" width="0.9" height="13.0" fill="#089981" opacity="0.75"/>
<rect x="376.71" y="170.0" width="1.9" height="10.0" fill="#089981"/>
<rect x="380.08" y="168.0" width="0.9" height="8.0" fill="#f23645" opacity="0.75"/>
<rect x="379.58" y="170.0" width="1.9" height="4.0" fill="#f23645"/>
<rect x="382.96" y="171.0" width="0.9" height="14.0" fill="#f23645" opacity="0.75"/>
<rect x="382.46" y="172.0" width="1.9" height="7.0" fill="#f23645"/>
<rect x="385.83" y="173.0" width="0.9" height="8.0" fill="#089981" opacity="0.75"/>
<rect x="385.33" y="174.0" width="1.9" height="6.0" fill="#089981"/>
<rect x="388.71" y="167.0" width="0.9" height="15.0" fill="#089981" opacity="0.75"/>
<rect x="388.21" y="168.0" width="1.9" height="13.0" fill="#089981"/>
<rect x="391.59" y="169.0" width="0.9" height="19.0" fill="#f23645" opacity="0.75"/>
<rect x="391.09" y="170.0" width="1.9" height="17.0" fill="#f23645"/>
<rect x="394.46" y="180.0" width="0.9" height="8.0" fill="#f23645" opacity="0.75"/>
<rect x="393.96" y="181.0" width="1.9" height="5.0" fill="#f23645"/>
<rect x="397.34" y="183.0" width="0.9" height="14.0" fill="#f23645" opacity="0.75"/>
<rect x="396.84" y="184.0" width="1.9" height="8.0" fill="#f23645"/>
<rect x="400.21" y="192.0" width="0.9" height="142.0" fill="#f23645" opacity="0.45"/>
<rect x="399.71" y="192.0" width="1.9" height="56.0" fill="#f23645"/>
<rect x="403.09" y="232.0" width="0.9" height="20.0" fill="#089981" opacity="0.75"/>
<rect x="402.59" y="234.0" width="1.9" height="13.0" fill="#089981"/>
<rect x="405.97" y="225.0" width="0.9" height="26.0" fill="#089981" opacity="0.75"/>
<rect x="405.47" y="227.0" width="1.9" height="23.0" fill="#089981"/>
<rect x="408.84" y="219.0" width="0.9" height="15.0" fill="#089981" opacity="0.75"/>
<rect x="408.34" y="222.0" width="1.9" height="8.0" fill="#089981"/>
<rect x="411.72" y="220.0" width="0.9" height="16.0" fill="#f23645" opacity="0.75"/>
<rect x="411.22" y="222.0" width="1.9" height="8.0" fill="#f23645"/>
<rect x="414.59" y="226.0" width="0.9" height="14.0" fill="#f23645" opacity="0.75"/>
<rect x="414.09" y="229.0" width="1.9" height="8.0" fill="#f23645"/>
<rect x="417.47" y="234.0" width="0.9" height="11.0" fill="#f23645" opacity="0.75"/>
<rect x="416.97" y="235.0" width="1.9" height="9.0" fill="#f23645"/>
<rect x="420.35" y="240.0" width="0.9" height="16.0" fill="#f23645" opacity="0.75"/>
<rect x="419.85" y="244.0" width="1.9" height="5.0" fill="#f23645"/>
<rect x="423.22" y="245.0" width="0.9" height="5.0" fill="#089981" opacity="0.75"/>
<rect x="422.72" y="246.0" width="1.9" height="3.0" fill="#089981"/>
<rect x="426.10" y="237.0" width="0.9" height="11.0" fill="#089981" opacity="0.75"/>
<rect x="425.60" y="240.0" width="1.9" height="7.0" fill="#089981"/>
<rect x="428.97" y="233.0" width="0.9" height="13.0" fill="#089981" opacity="0.75"/>
<rect x="428.47" y="235.0" width="1.9" height="8.0" fill="#089981"/>
<rect x="431.85" y="233.0" width="0.9" height="12.0" fill="#f23645" opacity="0.75"/>
<rect x="431.35" y="238.0" width="1.9" height="6.0" fill="#f23645"/>
<rect x="434.73" y="242.0" width="0.9" height="11.0" fill="#f23645" opacity="0.75"/>
<rect x="434.23" y="243.0" width="1.9" height="5.0" fill="#f23645"/>
<rect x="437.60" y="240.0" width="0.9" height="8.0" fill="#089981" opacity="0.75"/>
<rect x="437.10" y="242.0" width="1.9" height="5.0" fill="#089981"/>
<rect x="440.48" y="235.0" width="0.9" height="8.0" fill="#089981" opacity="0.75"/>
<rect x="439.98" y="236.0" width="1.9" height="6.0" fill="#089981"/>
<rect x="443.35" y="236.0" width="0.9" height="3.0" fill="#f23645" opacity="0.75"/>
<rect x="442.85" y="237.0" width="1.9" height="2.0" fill="#f23645"/>
<rect x="446.23" y="231.0" width="0.9" height="10.0" fill="#089981" opacity="0.75"/>
<rect x="445.73" y="233.0" width="1.9" height="6.0" fill="#089981"/>
<rect x="449.11" y="233.0" width="0.9" height="7.0" fill="#f23645" opacity="0.75"/>
<rect x="448.61" y="234.0" width="1.9" height="5.0" fill="#f23645"/>
<rect x="451.98" y="235.0" width="0.9" height="10.0" fill="#f23645" opacity="0.75"/>
<rect x="451.48" y="238.0" width="1.9" height="5.0" fill="#f23645"/>
<rect x="454.86" y="236.0" width="0.9" height="9.0" fill="#f23645" opacity="0.75"/>
<rect x="454.36" y="240.0" width="1.9" height="2.0" fill="#f23645"/>
<rect x="457.73" y="239.0" width="0.9" height="18.0" fill="#f23645" opacity="0.75"/>
<rect x="457.23" y="240.0" width="1.9" height="14.0" fill="#f23645"/>
<rect x="460.61" y="249.0" width="0.9" height="5.0" fill="#089981" opacity="0.75"/>
<rect x="460.11" y="250.0" width="1.9" height="3.0" fill="#089981"/>
<rect x="463.49" y="247.0" width="0.9" height="5.0" fill="#089981" opacity="0.75"/>
<rect x="462.99" y="248.0" width="1.9" height="3.0" fill="#089981"/>
<rect x="466.36" y="246.0" width="0.9" height="6.0" fill="#089981" opacity="0.75"/>
<rect x="465.86" y="247.0" width="1.9" height="4.0" fill="#089981"/>
<rect x="469.24" y="248.0" width="0.9" height="26.0" fill="#f23645" opacity="0.75"/>
<rect x="468.74" y="248.0" width="1.9" height="22.0" fill="#f23645"/>
<rect x="472.11" y="268.0" width="0.9" height="13.0" fill="#f23645" opacity="0.75"/>
<rect x="471.61" y="269.0" width="1.9" height="5.0" fill="#f23645"/>
<rect x="474.99" y="268.0" width="0.9" height="10.0" fill="#089981" opacity="0.75"/>
<rect x="474.49" y="269.0" width="1.9" height="4.0" fill="#089981"/>
<rect x="477.87" y="268.0" width="0.9" height="11.0" fill="#089981" opacity="0.75"/>
<rect x="477.37" y="269.0" width="1.9" height="5.0" fill="#089981"/>
<rect x="480.74" y="256.0" width="0.9" height="18.0" fill="#089981" opacity="0.75"/>
<rect x="480.24" y="257.0" width="1.9" height="16.0" fill="#089981"/>
<rect x="483.62" y="256.0" width="0.9" height="6.0" fill="#f23645" opacity="0.75"/>
<rect x="483.12" y="258.0" width="1.9" height="3.0" fill="#f23645"/>
<rect x="486.49" y="258.0" width="0.9" height="8.0" fill="#f23645" opacity="0.75"/>
<rect x="485.99" y="259.0" width="1.9" height="3.0" fill="#f23645"/>
<rect x="489.37" y="257.0" width="0.9" height="6.0" fill="#089981" opacity="0.75"/>
<rect x="488.87" y="258.0" width="1.9" height="3.0" fill="#089981"/>
<rect x="492.25" y="256.0" width="0.9" height="11.0" fill="#f23645" opacity="0.75"/>
<rect x="491.75" y="258.0" width="1.9" height="9.0" fill="#f23645"/>
<rect x="495.12" y="261.0" width="0.9" height="9.0" fill="#f23645" opacity="0.75"/>
<rect x="494.62" y="264.0" width="1.9" height="6.0" fill="#f23645"/>
<rect x="498.00" y="263.0" width="0.9" height="14.0" fill="#f23645" opacity="0.75"/>
<rect x="497.50" y="269.0" width="1.9" height="7.0" fill="#f23645"/>
<rect x="500.87" y="275.0" width="0.9" height="14.0" fill="#f23645" opacity="0.75"/>
<rect x="500.37" y="276.0" width="1.9" height="12.0" fill="#f23645"/>
<rect x="503.75" y="282.0" width="0.9" height="6.0" fill="#089981" opacity="0.75"/>
<rect x="503.25" y="284.0" width="1.9" height="3.0" fill="#089981"/>
<rect x="506.63" y="284.0" width="0.9" height="6.0" fill="#f23645" opacity="0.75"/>
<rect x="506.13" y="285.0" width="1.9" height="4.0" fill="#f23645"/>
<rect x="509.50" y="285.0" width="0.9" height="8.0" fill="#f23645" opacity="0.75"/>
<rect x="509.00" y="286.0" width="1.9" height="6.0" fill="#f23645"/>
<rect x="512.38" y="286.0" width="0.9" height="7.0" fill="#089981" opacity="0.75"/>
<rect x="511.88" y="288.0" width="1.9" height="4.0" fill="#089981"/>
<rect x="515.25" y="287.0" width="0.9" height="10.0" fill="#f23645" opacity="0.75"/>
<rect x="514.75" y="288.0" width="1.9" height="4.0" fill="#f23645"/>
<rect x="518.13" y="286.0" width="0.9" height="12.0" fill="#f23645" opacity="0.75"/>
<rect x="517.63" y="290.0" width="1.9" height="7.0" fill="#f23645"/>
<rect x="521.01" y="296.0" width="0.9" height="12.0" fill="#f23645" opacity="0.75"/>
<rect x="520.51" y="297.0" width="1.9" height="8.0" fill="#f23645"/>
<rect x="523.88" y="303.0" width="0.9" height="5.0" fill="#f23645" opacity="0.75"/>
<rect x="523.38" y="304.0" width="1.9" height="2.0" fill="#f23645"/>
<rect x="526.76" y="302.0" width="0.9" height="3.0" fill="#089981" opacity="0.75"/>
<rect x="526.26" y="303.0" width="1.9" height="2.0" fill="#089981"/>
<rect x="529.63" y="293.0" width="0.9" height="12.0" fill="#089981" opacity="0.75"/>
<rect x="529.13" y="295.0" width="1.9" height="9.0" fill="#089981"/>
<rect x="532.51" y="293.0" width="0.9" height="8.0" fill="#089981" opacity="0.75"/>
<rect x="532.01" y="295.0" width="1.9" height="4.0" fill="#089981"/>
<rect x="535.39" y="291.0" width="0.9" height="7.0" fill="#089981" opacity="0.75"/>
<rect x="534.89" y="292.0" width="1.9" height="5.0" fill="#089981"/>
<rect x="538.26" y="290.0" width="0.9" height="4.0" fill="#089981" opacity="0.75"/>
<rect x="537.76" y="291.0" width="1.9" height="2.0" fill="#089981"/>
<rect x="541.14" y="288.0" width="0.9" height="6.0" fill="#f23645" opacity="0.75"/>
<rect x="540.64" y="289.0" width="1.9" height="4.0" fill="#f23645"/>
<rect x="544.01" y="292.0" width="0.9" height="4.0" fill="#f23645" opacity="0.75"/>
<rect x="543.51" y="293.0" width="1.9" height="2.0" fill="#f23645"/>
<rect x="546.89" y="292.0" width="0.9" height="3.0" fill="#f23645" opacity="0.75"/>
<rect x="546.39" y="292.0" width="1.9" height="2.0" fill="#f23645"/>
<rect x="549.77" y="294.0" width="0.9" height="14.0" fill="#f23645" opacity="0.75"/>
<rect x="549.27" y="295.0" width="1.9" height="12.0" fill="#f23645"/>
<rect x="552.64" y="293.0" width="0.9" height="14.0" fill="#089981" opacity="0.75"/>
<rect x="552.14" y="294.0" width="1.9" height="12.0" fill="#089981"/>
<rect x="555.52" y="288.0" width="0.9" height="7.0" fill="#089981" opacity="0.75"/>
<rect x="555.02" y="289.0" width="1.9" height="5.0" fill="#089981"/>
<rect x="558.39" y="286.0" width="0.9" height="5.0" fill="#f23645" opacity="0.75"/>
<rect x="557.89" y="288.0" width="1.9" height="2.0" fill="#f23645"/>
<rect x="561.27" y="289.0" width="0.9" height="11.0" fill="#f23645" opacity="0.75"/>
<rect x="560.77" y="290.0" width="1.9" height="9.0" fill="#f23645"/>
<rect x="564.15" y="295.0" width="0.9" height="5.0" fill="#089981" opacity="0.75"/>
<rect x="563.65" y="296.0" width="1.9" height="3.0" fill="#089981"/>
<rect x="567.02" y="295.0" width="0.9" height="5.0" fill="#f23645" opacity="0.75"/>
<rect x="566.52" y="296.0" width="1.9" height="4.0" fill="#f23645"/>
<rect x="569.90" y="284.0" width="0.9" height="15.0" fill="#089981" opacity="0.75"/>
<rect x="569.40" y="289.0" width="1.9" height="9.0" fill="#089981"/>
<rect x="572.77" y="283.0" width="0.9" height="8.0" fill="#089981" opacity="0.75"/>
<rect x="572.27" y="286.0" width="1.9" height="4.0" fill="#089981"/>
<rect x="575.65" y="286.0" width="0.9" height="7.0" fill="#f23645" opacity="0.75"/>
<rect x="575.15" y="286.0" width="1.9" height="7.0" fill="#f23645"/>
<rect x="578.53" y="292.0" width="0.9" height="3.0" fill="#f23645" opacity="0.75"/>
<rect x="578.03" y="293.0" width="1.9" height="1.0" fill="#f23645"/>
<rect x="581.40" y="293.0" width="0.9" height="10.0" fill="#f23645" opacity="0.75"/>
<rect x="580.90" y="293.0" width="1.9" height="8.0" fill="#f23645"/>
<rect x="584.28" y="298.0" width="0.9" height="2.0" fill="#089981" opacity="0.75"/>
<rect x="583.78" y="298.0" width="1.9" height="2.0" fill="#089981"/>
<rect x="587.15" y="298.0" width="0.9" height="6.0" fill="#f23645" opacity="0.75"/>
<rect x="586.65" y="299.0" width="1.9" height="4.0" fill="#f23645"/>
<rect x="590.03" y="303.0" width="0.9" height="4.0" fill="#f23645" opacity="0.75"/>
<rect x="589.53" y="303.0" width="1.9" height="3.0" fill="#f23645"/>
<rect x="592.91" y="304.0" width="0.9" height="3.0" fill="#089981" opacity="0.75"/>
<rect x="592.41" y="305.0" width="1.9" height="2.0" fill="#089981"/>
<rect x="595.78" y="301.0" width="0.9" height="9.0" fill="#f23645" opacity="0.75"/>
<rect x="595.28" y="304.0" width="1.9" height="6.0" fill="#f23645"/>
<rect x="598.66" y="307.0" width="0.9" height="8.0" fill="#f23645" opacity="0.75"/>
<rect x="598.16" y="308.0" width="1.9" height="5.0" fill="#f23645"/>
<rect x="601.53" y="304.0" width="0.9" height="10.0" fill="#089981" opacity="0.75"/>
<rect x="601.03" y="305.0" width="1.9" height="8.0" fill="#089981"/>
<rect x="604.41" y="304.0" width="0.9" height="3.0" fill="#f23645" opacity="0.75"/>
<rect x="603.91" y="305.0" width="1.9" height="2.0" fill="#f23645"/>
<rect x="607.29" y="304.0" width="0.9" height="3.0" fill="#f23645" opacity="0.75"/>
<rect x="606.79" y="305.0" width="1.9" height="2.0" fill="#f23645"/>
<rect x="610.16" y="305.0" width="0.9" height="3.0" fill="#f23645" opacity="0.75"/>
<rect x="609.66" y="306.0" width="1.9" height="1.0" fill="#f23645"/>
<rect x="613.04" y="306.0" width="0.9" height="3.0" fill="#f23645" opacity="0.75"/>
<rect x="612.54" y="306.0" width="1.9" height="2.0" fill="#f23645"/>
<rect x="615.91" y="307.0" width="0.9" height="3.0" fill="#089981" opacity="0.75"/>
<rect x="615.41" y="307.0" width="1.9" height="2.0" fill="#089981"/>
<rect x="618.79" y="307.0" width="0.9" height="3.0" fill="#f23645" opacity="0.75"/>
<rect x="618.29" y="308.0" width="1.9" height="1.0" fill="#f23645"/>
<rect x="621.67" y="305.0" width="0.9" height="5.0" fill="#089981" opacity="0.75"/>
<rect x="621.17" y="306.0" width="1.9" height="3.0" fill="#089981"/>
<rect x="624.54" y="303.0" width="0.9" height="5.0" fill="#089981" opacity="0.75"/>
<rect x="624.04" y="303.0" width="1.9" height="4.0" fill="#089981"/>
<rect x="627.42" y="301.0" width="0.9" height="6.0" fill="#f23645" opacity="0.75"/>
<rect x="626.92" y="303.0" width="1.9" height="3.0" fill="#f23645"/>
<rect x="630.29" y="300.0" width="0.9" height="7.0" fill="#f23645" opacity="0.75"/>
<rect x="629.79" y="303.0" width="1.9" height="3.0" fill="#f23645"/>
<rect x="633.17" y="303.0" width="0.9" height="5.0" fill="#089981" opacity="0.75"/>
<rect x="632.67" y="304.0" width="1.9" height="3.0" fill="#089981"/>
<rect x="636.05" y="304.0" width="0.9" height="4.0" fill="#f23645" opacity="0.75"/>
<rect x="635.55" y="305.0" width="1.9" height="2.0" fill="#f23645"/>
<rect x="638.92" y="286.0" width="0.9" height="21.0" fill="#089981" opacity="0.75"/>
<rect x="638.42" y="287.0" width="1.9" height="20.0" fill="#089981"/>
<rect x="641.80" y="260.0" width="0.9" height="28.0" fill="#089981" opacity="0.75"/>
<rect x="641.30" y="263.0" width="1.9" height="24.0" fill="#089981"/>
<rect x="644.67" y="260.0" width="0.9" height="9.0" fill="#089981" opacity="0.75"/>
<rect x="644.17" y="261.0" width="1.9" height="5.0" fill="#089981"/>
<rect x="647.55" y="236.0" width="0.9" height="26.0" fill="#089981" opacity="0.75"/>
<rect x="647.05" y="237.0" width="1.9" height="24.0" fill="#089981"/>
<rect x="650.43" y="236.0" width="0.9" height="14.0" fill="#f23645" opacity="0.75"/>
<rect x="649.93" y="238.0" width="1.9" height="4.0" fill="#f23645"/>
<rect x="653.30" y="239.0" width="0.9" height="16.0" fill="#f23645" opacity="0.75"/>
<rect x="652.80" y="241.0" width="1.9" height="8.0" fill="#f23645"/>
<rect x="656.18" y="239.0" width="0.9" height="12.0" fill="#f23645" opacity="0.75"/>
<rect x="655.68" y="248.0" width="1.9" height="3.0" fill="#f23645"/>
<rect x="659.05" y="248.0" width="0.9" height="9.0" fill="#f23645" opacity="0.75"/>
<rect x="658.55" y="249.0" width="1.9" height="8.0" fill="#f23645"/>
<rect x="43.1" y="197.4" width="920.9" height="1.7" fill="#f2535c"/>
<rect x="333.7" y="309.4" width="630.3" height="1.7" fill="#69bf6d"/>
<polyline points="0.0,118.2 6.1,114.5 14.6,107.2 18.3,110.2 24.4,115.7 29.3,117.0 34.1,121.8 39.0,126.1 43.9,127.7 50.0,124.3 53.7,124.9 60.0,130.4 68.9,137.5 77.7,146.4 84.0,156.1 90.2,160.6 97.3,166.8 102.6,169.5 107.9,171.2 113.3,172.1 120.4,173.0 127.5,173.9 131.9,171.2 138.1,163.3 143.5,157.0 148.8,150.8 153.2,145.0 157.6,139.3 162.0,133.0 166.5,126.9 170.9,120.3 180.0,120.5 188.0,121.0 194.0,127.0 200.0,134.0 206.0,139.0 212.0,143.0 218.0,145.0 224.0,143.0 230.0,140.3 234.6,138.8 240.7,141.0 245.6,144.0 250.5,146.8 255.4,148.8 262.7,149.8 270.0,152.3 276.0,156.2 280.0,159.0 287.8,163.4 295.5,167.2 303.3,171.4 307.2,172.1 311.0,171.3 317.3,168.0 321.9,163.6 326.6,161.0 332.8,159.5 339.0,157.6 342.1,158.0 346.8,160.2 353.0,164.2 360.7,169.6 367.0,173.5 373.1,176.1 380.9,176.5 388.7,176.2 394.9,178.0 401.0,186.0 405.0,193.0 409.0,198.0 415.0,205.0 420.9,210.9 426.9,217.9 432.9,223.9 438.9,226.9 444.9,228.9 448.0,228.9 456.0,231.9 464.0,235.9 471.9,241.9 477.9,247.9 483.9,250.3 491.9,252.9 499.9,257.9 503.0,260.0 511.0,268.0 519.0,274.0 526.9,280.9 534.9,283.9 542.9,285.9 548.9,288.9 554.9,290.5 565.5,291.0 573.3,291.0 581.0,292.6 588.8,295.0 596.6,298.0 604.3,300.0 610.0,301.5 620.0,303.5 630.0,303.9 637.9,302.9 641.9,297.9 645.9,291.9 651.9,282.9 659.5,275.9" fill="none" stroke="#4f83ff" stroke-width="1.05" stroke-linejoin="round"/>
<line x1="169.9" y1="69.4" x2="677.5" y2="298.6" stroke="#404040" stroke-width="1.65" stroke-linecap="round"/>
<g stroke="#fff" stroke-width="4.2" stroke-linejoin="round" paint-order="stroke" fill="#131722"><path d="M2.6 392.8H10.6V403H7V396.6H2.6Z"/><circle cx="14.4" cy="394.6" r="1.7"/><path d="M18.7 392.8H23.5L19.7 403H15Z"/></g>
<text x="29.1" y="403.2" font-family="Liberation Sans" font-weight="bold" font-size="14.6" textLength="86.6" lengthAdjust="spacingAndGlyphs" fill="#131722" stroke="#fff" stroke-width="4" paint-order="stroke" stroke-linejoin="round">TradingView</text>
</svg>
<svg width="20" height="16" style="left:0;top:0">
<circle cx="9.4" cy="4.3" r="3.9" fill="#26a69a"/>
<circle cx="9.6" cy="4.2" r="1.7" fill="#a8e2da"/>
<circle cx="4.5" cy="9.3" r="4.2" fill="#4a9d3b"/>
<circle cx="4.5" cy="9.6" r="1.6" fill="#3c8430"/>
</svg>
<svg width="14" height="14" style="left:176.3px;top:-0.2px"><circle cx="7" cy="7" r="6.3" fill="#dcf1ed"/><circle cx="7" cy="7" r="3" fill="#089981"/></svg>
<div class="a" style="left:195px;top:1.8px;font-size:9px;line-height:11px;color:#f23645"><span style="color:#3b3f4a">O</span>0.00000657 <span style="color:#3b3f4a">&nbsp;H</span>0.00000670 <span style="color:#3b3f4a">&nbsp;L</span>0.00000625 <span style="color:#3b3f4a">&nbsp;C</span>0.00000631 &nbsp;−0.00000025 (−3.81%)</div>
<div class="a" style="left:64px;top:19.3px;width:48px;height:23.6px;background:#fdfdfd;border-top:1px solid #f1f1f1;border-bottom:1px solid #f1f1f1"></div>
<div class="a" style="left:-1px;top:18.5px;width:64.5px;height:25.1px;border:1px solid #f8a3aa;border-radius:4.4px;background:#fff"></div>
<div class="a" style="left:112.2px;top:18.5px;width:64.7px;height:25px;border:1px solid #82a0ff;border-radius:4.4px;background:#fff"></div>
<div class="a" style="left:-1px;top:48.2px;width:23.2px;height:14.6px;border:1px solid #e3e5ea;border-radius:2px;background:#fff"></div>
<svg width="8" height="6" style="left:3.5px;top:53px"><polyline points="0.8,1 3.3,3.5 5.8,1" fill="none" stroke="#131722" stroke-width="1.1"/></svg>
<div class="a" style="left:15.87px;top:2.31px;font-size:11.8px;line-height:11.8px;color:#131722;transform:scaleX(0.788);transform-origin:0 0;-webkit-text-stroke:0.25px #131722;">PEPE</div>
<div class="a" style="left:45.60px;top:2.31px;font-size:11.8px;line-height:11.8px;color:#131722;transform:scaleX(0.904);transform-origin:0 0;-webkit-text-stroke:0.25px #131722;">/</div>
<div class="a" style="left:54.23px;top:2.31px;font-size:11.8px;line-height:11.8px;color:#131722;transform:scaleX(0.928);transform-origin:0 0;-webkit-text-stroke:0.25px #131722;">TetherUS</div>
<div class="a" style="left:108.98px;top:2.31px;font-size:11.8px;line-height:11.8px;color:#131722;transform:scaleX(0.847);transform-origin:0 0;-webkit-text-stroke:0.25px #131722;">1D</div>
<div class="a" style="left:130.21px;top:2.31px;font-size:11.8px;line-height:11.8px;color:#131722;transform:scaleX(0.960);transform-origin:0 0;-webkit-text-stroke:0.25px #131722;">Binance</div>
<div class="a" style="left:103.6px;top:6.8px;width:1.6px;height:1.6px;background:#131722;border-radius:50%"></div>
<div class="a" style="left:125.7px;top:6.8px;width:1.6px;height:1.6px;background:#131722;border-radius:50%"></div>
<div class="a" style="left:6.91px;top:21.85px;font-size:8.8px;line-height:8.8px;color:#f23645;font-weight:bold;transform:scaleX(1.048);transform-origin:0 0;">0.00000631</div>
<div class="a" style="left:22.78px;top:31.84px;font-size:8.1px;line-height:8.1px;color:#f5566a;transform:scaleX(0.852);transform-origin:0 0;">SELL</div>
<div class="a" style="left:69.18px;top:27.10px;font-size:7.8px;line-height:7.8px;color:#4a4a4a;transform:scaleX(0.895);transform-origin:0 0;">0.00000001</div>
<div class="a" style="left:120.11px;top:21.75px;font-size:8.8px;line-height:8.8px;color:#2962ff;font-weight:bold;transform:scaleX(1.044);transform-origin:0 0;">0.00000632</div>
<div class="a" style="left:136.23px;top:31.54px;font-size:8.1px;line-height:8.1px;color:#5c88ff;transform:scaleX(0.904);transform-origin:0 0;">BUY</div>
<div class="a" style="left:13.60px;top:50.88px;font-size:9px;line-height:9px;color:#131722;transform:scaleX(0.948);transform-origin:0 0;">2</div>
<div class="a" style="left:970.04px;top:-5.05px;font-size:9.2px;line-height:9.2px;color:#131722;transform:scaleX(0.917);transform-origin:0 0;">0.00001800</div>
<div class="a" style="left:970.04px;top:17.01px;font-size:9.2px;line-height:9.2px;color:#131722;transform:scaleX(0.917);transform-origin:0 0;">0.00001700</div>
<div class="a" style="left:970.04px;top:39.07px;font-size:9.2px;line-height:9.2px;color:#131722;transform:scaleX(0.917);transform-origin:0 0;">0.00001600</div>
<div class="a" style="left:970.04px;top:61.13px;font-size:9.2px;line-height:9.2px;color:#131722;transform:scaleX(0.917);transform-origin:0 0;">0.00001500</div>
<div class="a" style="left:970.04px;top:83.19px;font-size:9.2px;line-height:9.2px;color:#131722;transform:scaleX(0.917);transform-origin:0 0;">0.00001400</div>
<div class="a" style="left:970.04px;top:105.25px;font-size:9.2px;line-height:9.2px;color:#131722;transform:scaleX(0.917);transform-origin:0 0;">0.00001300</div>
<div class="a" style="left:970.04px;top:127.31px;font-size:9.2px;line-height:9.2px;color:#131722;transform:scaleX(0.917);transform-origin:0 0;">0.00001200</div>
<div class="a" style="left:970.03px;top:149.37px;font-size:9.2px;line-height:9.2px;color:#131722;transform:scaleX(0.930);transform-origin:0 0;">0.00001100</div>
<div class="a" style="left:970.04px;top:171.43px;font-size:9.2px;line-height:9.2px;color:#131722;transform:scaleX(0.917);transform-origin:0 0;">0.00001000</div>
<div class="a" style="left:970.04px;top:193.49px;font-size:9.2px;line-height:9.2px;color:#131722;transform:scaleX(0.917);transform-origin:0 0;">0.00000900</div>
<div class="a" style="left:970.04px;top:215.55px;font-size:9.2px;line-height:9.2px;color:#131722;transform:scaleX(0.917);transform-origin:0 0;">0.00000800</div>
<div class="a" style="left:970.04px;top:237.61px;font-size:9.2px;line-height:9.2px;color:#131722;transform:scaleX(0.917);transform-origin:0 0;">0.00000700</div>
<div class="a" style="left:970.04px;top:259.67px;font-size:9.2px;line-height:9.2px;color:#131722;transform:scaleX(0.917);transform-origin:0 0;">0.00000600</div>
<div class="a" style="left:970.04px;top:281.73px;font-size:9.2px;line-height:9.2px;color:#131722;transform:scaleX(0.917);transform-origin:0 0;">0.00000500</div>
<div class="a" style="left:970.04px;top:303.79px;font-size:9.2px;line-height:9.2px;color:#131722;transform:scaleX(0.917);transform-origin:0 0;">0.00000400</div>
<div class="a" style="left:970.04px;top:325.85px;font-size:9.2px;line-height:9.2px;color:#131722;transform:scaleX(0.917);transform-origin:0 0;">0.00000300</div>
<div class="a" style="left:970.04px;top:347.91px;font-size:9.2px;line-height:9.2px;color:#131722;transform:scaleX(0.917);transform-origin:0 0;">0.00000200</div>
<div class="a" style="left:970.04px;top:369.97px;font-size:9.2px;line-height:9.2px;color:#131722;transform:scaleX(0.917);transform-origin:0 0;">0.00000100</div>
<div class="a" style="left:970.61px;top:392.03px;font-size:9.2px;line-height:9.2px;color:#131722;transform:scaleX(0.897);transform-origin:0 0;">−0.00000000</div>
<div class="a" style="left:17.42px;top:419.75px;font-size:8.8px;line-height:8.8px;color:#131722;transform:scaleX(0.952);transform-origin:0 0;">Jun</div>
<div class="a" style="left:104.76px;top:419.75px;font-size:8.8px;line-height:8.8px;color:#131722;transform:scaleX(1.025);transform-origin:0 0;">Jul</div>
<div class="a" style="left:192.55px;top:419.75px;font-size:8.8px;line-height:8.8px;color:#131722;transform:scaleX(0.917);transform-origin:0 0;">Aug</div>
<div class="a" style="left:281.65px;top:419.75px;font-size:8.8px;line-height:8.8px;color:#131722;transform:scaleX(0.892);transform-origin:0 0;">Sep</div>
<div class="a" style="left:367.89px;top:419.75px;font-size:8.8px;line-height:8.8px;color:#131722;transform:scaleX(0.992);transform-origin:0 0;">Oct</div>
<div class="a" style="left:456.89px;top:419.75px;font-size:8.8px;line-height:8.8px;color:#131722;transform:scaleX(0.882);transform-origin:0 0;">Nov</div>
<div class="a" style="left:543.09px;top:419.75px;font-size:8.8px;line-height:8.8px;color:#131722;transform:scaleX(0.890);transform-origin:0 0;">Dec</div>
<div class="a" style="left:629.42px;top:419.75px;font-size:8.8px;line-height:8.8px;color:#131722;font-weight:bold;transform:scaleX(1.022);transform-origin:0 0;">2026</div>
<div class="a" style="left:721.02px;top:419.75px;font-size:8.8px;line-height:8.8px;color:#131722;transform:scaleX(0.992);transform-origin:0 0;">Feb</div>
<div class="a" style="left:801.53px;top:419.75px;font-size:8.8px;line-height:8.8px;color:#131722;transform:scaleX(0.971);transform-origin:0 0;">Mar</div>
<div class="a" style="left:891.95px;top:419.75px;font-size:8.8px;line-height:8.8px;color:#131722;transform:scaleX(0.930);transform-origin:0 0;">Apr</div>
<div class="a" style="left:3.50px;top:442.36px;font-size:10.8px;line-height:10.8px;color:#131722;transform:scaleX(0.886);transform-origin:0 0;">1D</div>
<div class="a" style="left:23.91px;top:442.36px;font-size:10.8px;line-height:10.8px;color:#131722;transform:scaleX(0.848);transform-origin:0 0;">5D</div>
<div class="a" style="left:44.09px;top:442.36px;font-size:10.8px;line-height:10.8px;color:#131722;transform:scaleX(0.904);transform-origin:0 0;">1M</div>
<div class="a" style="left:65.30px;top:442.36px;font-size:10.8px;line-height:10.8px;color:#131722;transform:scaleX(0.890);transform-origin:0 0;">3M</div>
<div class="a" style="left:86.04px;top:442.36px;font-size:10.8px;line-height:10.8px;color:#131722;transform:scaleX(0.901);transform-origin:0 0;">6M</div>
<div class="a" style="left:107.56px;top:442.36px;font-size:10.8px;line-height:10.8px;color:#131722;transform:scaleX(0.826);transform-origin:0 0;">YTD</div>
<div class="a" style="left:133.74px;top:442.36px;font-size:10.8px;line-height:10.8px;color:#131722;transform:scaleX(0.829);transform-origin:0 0;">1Y</div>
<div class="a" style="left:153.40px;top:442.36px;font-size:10.8px;line-height:10.8px;color:#131722;transform:scaleX(1.089);transform-origin:0 0;">All</div>
<div class="a" style="left:933.39px;top:442.36px;font-size:10.8px;line-height:10.8px;color:#131722;transform:scaleX(0.903);transform-origin:0 0;">14:33:20 UTC+5:30</div>
<div class="a" style="left:964.5px;top:193.4px;width:54.1px;height:10.2px;background:#f23645"></div>
<div class="a" style="left:970.74px;top:193.88px;font-size:9.0px;line-height:9.0px;color:#fff;transform:scaleX(0.923);transform-origin:0 0;">0.00000895</div>
<div class="a" style="left:964.5px;top:250.8px;width:54.1px;height:22.3px;background:#f23645"></div>
<div class="a" style="left:970.74px;top:252.18px;font-size:9.0px;line-height:9.0px;color:#fff;transform:scaleX(0.923);transform-origin:0 0;">0.00000631</div>
<div class="a" style="left:970.45px;top:262.38px;font-size:9.0px;line-height:9.0px;color:#fcd7db;transform:scaleX(0.975);transform-origin:0 0;">14:56:40</div>
<div class="a" style="left:964.5px;top:273.1px;width:54.1px;height:11.5px;background:#2962ff"></div>
<div class="a" style="left:970.74px;top:274.28px;font-size:9.0px;line-height:9.0px;color:#fff;transform:scaleX(0.920);transform-origin:0 0;">0.00000540</div>
<div class="a" style="left:964.5px;top:304.2px;width:54.1px;height:10.4px;background:#4caf50"></div>
<div class="a" style="left:970.74px;top:304.78px;font-size:9.0px;line-height:9.0px;color:#fff;transform:scaleX(0.923);transform-origin:0 0;">0.00000387</div>
<div class="a" style="left:964.5px;top:397.5px;width:32.5px;height:11.5px;background:#ef5350"></div>
<div class="a" style="left:971.00px;top:399.08px;font-size:9px;line-height:9px;color:#fff;font-weight:bold;transform:scaleX(0.974);transform-origin:0 0;">4.97T</div>
<svg width="20" height="20" style="left:650px;top:394px"><circle cx="10.1" cy="9.6" r="7.1" fill="rgba(255,255,255,0.85)" stroke="#9c2fb5" stroke-width="1.25"/><path d="M12.9 5.8 L7.9 10.4 H10.6 L7.1 14 L13.4 8.8 H10.7 Z" fill="#9c2fb5"/><circle cx="15.1" cy="4.9" r="2.5" fill="#fff"/><circle cx="15.1" cy="4.9" r="1.9" fill="#f0243c"/></svg>
<svg width="14" height="14" style="left:988px;top:417px"><polygon points="4.7,2.6 9.9,2.6 12.4,6.8 9.9,11 4.7,11 2.2,6.8" fill="none" stroke="#131722" stroke-width="0.9"/><circle cx="7.3" cy="6.8" r="1.1" fill="none" stroke="#131722" stroke-width="0.8"/></svg>
<div class="a" style="left:0;top:433px;width:1024px;height:1px;background:#e9eaed"></div>
<div class="a" style="left:172.7px;top:439.5px;width:1px;height:12px;background:#ebebed"></div>
<svg width="18" height="13" style="left:181px;top:438.5px" fill="none" stroke="#2a2e39" stroke-width="0.9"><path d="M2.9 8.2V4.3Q2.9 2.6 4.6 2.6H13.8Q15.5 2.6 15.5 4.3V13"/><line x1="2.9" y1="5.9" x2="15.5" y2="5.9"/><line x1="6.6" y1="1.4" x2="6.6" y2="3.8" stroke-width="1.2"/><line x1="11.7" y1="1.4" x2="11.7" y2="3.8" stroke-width="1.2"/><path d="M2.5 11.6H7.6M5.9 10 7.6 11.6 5.9 13.2" stroke-width="1.1"/></svg>
</body></html>
